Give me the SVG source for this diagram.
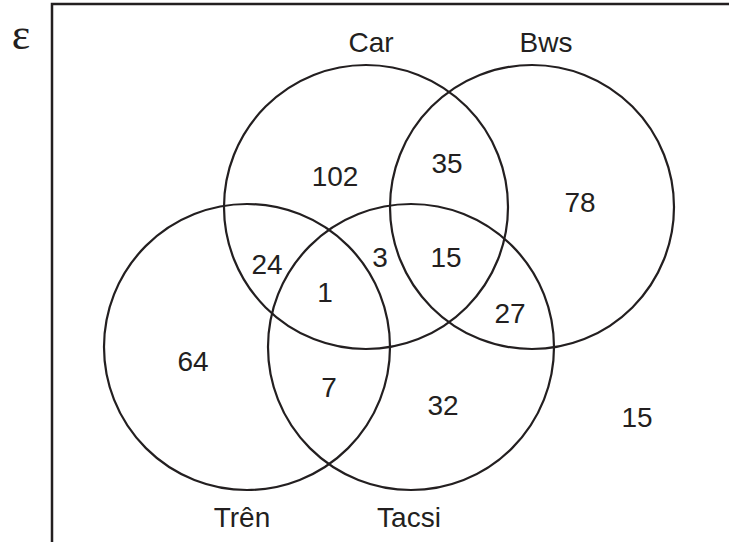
<svg xmlns="http://www.w3.org/2000/svg" width="729" height="542" viewBox="0 0 729 542">
<style>
.c{fill:none;stroke:#231f20;stroke-width:2.2}
.t{font-family:"Liberation Sans",Arial,sans-serif;font-size:28px;fill:#231f20;text-anchor:middle}
.e{font-family:"Liberation Serif","Times New Roman",serif;font-size:44px;fill:#231f20;text-anchor:middle}
</style>
<rect width="729" height="542" fill="#fff"/>
<g id="universe">
<path d="M52,545 V4 H732" fill="none" stroke="#231f20" stroke-width="2.5"/>
<text class="e" x="21" y="49">ε</text>
</g>
<g id="car"><circle class="c" cx="366" cy="207" r="142"/><text class="t" x="371" y="52">Car</text></g>
<g id="bws"><circle class="c" cx="532" cy="207" r="142"/><text class="t" x="546" y="52">Bws</text></g>
<g id="tren"><circle class="c" cx="247" cy="347" r="143"/><text class="t" x="242" y="527">Trên</text></g>
<g id="tacsi"><circle class="c" cx="411" cy="347" r="143"/><text class="t" x="409" y="527">Tacsi</text></g>
<g id="counts">
<text class="t" x="335" y="186">102</text>
<text class="t" x="447" y="173">35</text>
<text class="t" x="580" y="212">78</text>
<text class="t" x="267" y="274">24</text>
<text class="t" x="380" y="267">3</text>
<text class="t" x="446" y="267">15</text>
<text class="t" x="325" y="302">1</text>
<text class="t" x="510" y="323">27</text>
<text class="t" x="193" y="371">64</text>
<text class="t" x="329" y="397">7</text>
<text class="t" x="443" y="415">32</text>
<text class="t" x="637" y="427">15</text>
</g>
<g id="connectors"></g>
</svg>
